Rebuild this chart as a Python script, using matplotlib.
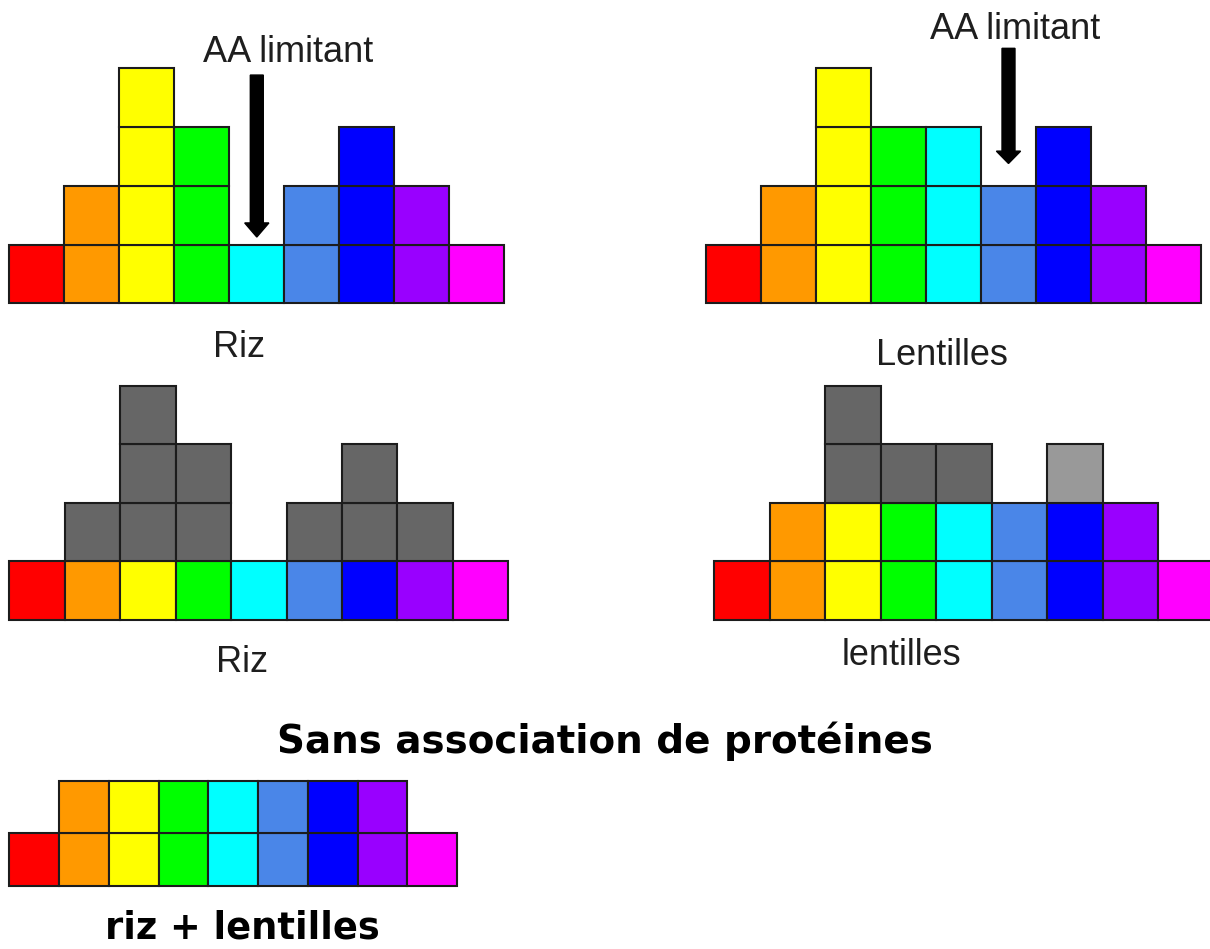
import matplotlib
matplotlib.use("Agg")
from matplotlib import pyplot as plt

# acides aminés : une couleur par colonne
couleurs = ['#ff0000', '#ff9900', '#ffff00', '#00ff00', '#00ffff',
            '#4a86e8', '#0000ff', '#9900ff', '#ff00ff']
gris_fonce = '#666666'
gris_clair = '#999999'

# nombre de cases par acide aminé
riz = [1, 2, 4, 3, 1, 2, 3, 2, 1]
lentilles = [1, 2, 4, 3, 3, 2, 3, 2, 1]
riz_utilise = [1, 1, 1, 1, 1, 1, 1, 1, 1]
lentilles_utilise = [1, 2, 2, 2, 2, 2, 2, 2, 1]
riz_lentilles = [1, 2, 2, 2, 2, 2, 2, 2, 1]
gris_lentilles = [gris_fonce] * 6 + [gris_clair] + [gris_fonce] * 2

aa_limitant_riz = 4
aa_limitant_lentilles = 5

W, H = 1210, 949
BORD = '#1c1c1c'
fig = plt.figure(figsize=(W / 100, H / 100), dpi=100)


def rect(x0, y0, x1, y1):
    return [x0 / W, 1 - y1 / H, (x1 - x0) / W, (y1 - y0) / H]


def panneau(r, nlignes):
    ax = fig.add_axes(r)
    ax.set_xlim(0, 9)
    ax.set_ylim(0, nlignes)
    ax.axis('off')
    return ax


def empiler(ax, hauteurs, cols, depart=None):
    for i, h in enumerate(hauteurs):
        b0 = 0 if depart is None else depart[i]
        c = cols[i] if isinstance(cols, list) else cols
        for j in range(h):
            ax.bar(i + 0.5, 1, bottom=b0 + j, width=1, color=c,
                   edgecolor=BORD, linewidth=1.5, clip_on=False)


def texte(x, y, s, **kw):
    fig.text(x / W, 1 - y / H, s, ha='center', va='baseline', **kw)


reg = dict(family='Liberation Sans', fontsize=26, color='#1e1e1e')
gras = dict(family='DejaVu Sans', fontweight='bold', color='black')

# Riz (haut)
ax1 = panneau(rect(9.3, 68.3, 504.3, 303.3), 4)
empiler(ax1, riz, couleurs)
ax1.arrow(aa_limitant_riz + 0.5, 3.885, 0, -2.757, width=0.236,
          head_width=0.44, head_length=0.24, length_includes_head=True,
          color='black', clip_on=False)
texte(288.5, 61.5, 'AA limitant', **reg)
texte(239, 357.3, 'Riz', **reg)

# Lentilles (haut)
ax2 = panneau(rect(706, 68.3, 1201, 303.3), 4)
empiler(ax2, lentilles, couleurs)
ax2.arrow(aa_limitant_lentilles + 0.5, 4.34, 0, -1.96, width=0.236,
          head_width=0.44, head_length=0.21, length_includes_head=True,
          color='black', clip_on=False)
texte(1015, 39.3, 'AA limitant', **reg)
texte(941.7, 365, 'Lentilles', **reg)

# Riz : part utilisée et part perdue
ax3 = panneau(rect(9.3, 385.7, 508.3, 620), 4)
empiler(ax3, riz_utilise, couleurs)
empiler(ax3, [a - b for a, b in zip(riz, riz_utilise)], gris_fonce, riz_utilise)
texte(241.7, 671.7, 'Riz', **reg)

# lentilles : part utilisée et part perdue
ax4 = panneau(rect(714, 385.7, 1214, 620), 4)
empiler(ax4, lentilles_utilise, couleurs)
empiler(ax4, [a - b for a, b in zip(lentilles, lentilles_utilise)],
        gris_lentilles, lentilles_utilise)
texte(901.7, 665, 'lentilles', **reg)

texte(605, 752.7, 'Sans association de protéines', fontsize=28, **gras)

# riz + lentilles
ax5 = panneau(rect(9.2, 780.7, 457.2, 886), 2)
empiler(ax5, riz_lentilles, couleurs)
texte(242, 938.3, 'riz + lentilles', fontsize=26.5, **gras)

fig.savefig('out.png', dpi=100, facecolor='white')
